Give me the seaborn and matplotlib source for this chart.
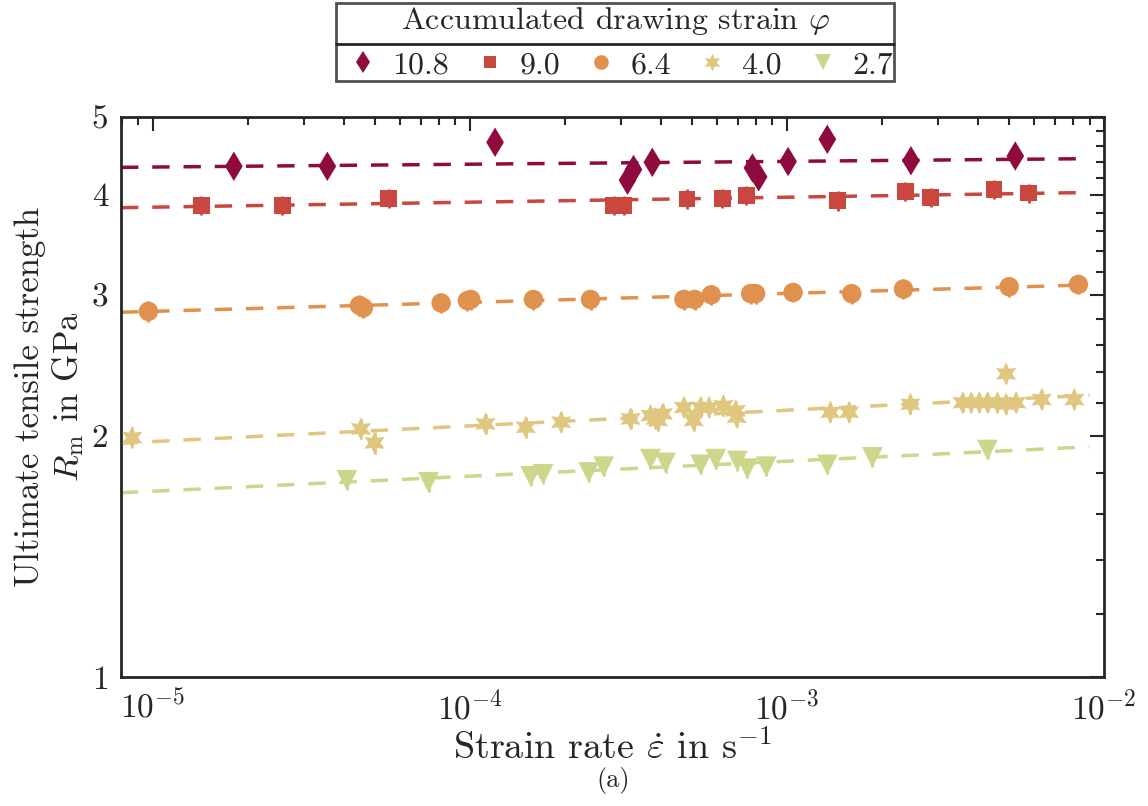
import numpy as np
import pandas as pd
import matplotlib
matplotlib.use("Agg")
import matplotlib.pyplot as plt
import seaborn as sns
from matplotlib.lines import Line2D
from matplotlib.ticker import LogLocator, FixedLocator, NullFormatter

# accumulated drawing strain -> strain rate (1/s) and tensile strength (GPa)
phi_labels = ["10.8", "9.0", "6.4", "4.0", "2.7"]
colors = ["#8E0A3F", "#C9473F", "#E0914E", "#DFC77F", "#CDD68A"]
markers = ["d", "s", "o", (6, 1, 0), "v"]
msizes = [15, 12, 14, 17, 15]

rate_108 = [1.80e-5, 3.55e-5, 1.20e-4, 3.14e-4, 3.28e-4, 3.76e-4, 7.78e-4, 8.14e-4,
            1.008e-3, 1.34e-3, 2.46e-3, 5.25e-3]
rm_108 = [4.34, 4.34, 4.65, 4.17, 4.30, 4.39, 4.32, 4.21, 4.40, 4.69, 4.41, 4.47]

rate_90 = [1.42e-5, 2.56e-5, 5.54e-5, 2.84e-4, 3.06e-4, 4.84e-4, 6.25e-4, 7.44e-4,
           1.446e-3, 2.36e-3, 2.84e-3, 4.50e-3, 5.78e-3]
rm_90 = [3.88, 3.88, 3.96, 3.88, 3.88, 3.95, 3.96, 3.99, 3.93, 4.04, 3.97, 4.06, 4.02]

rate_64 = [9.68e-6, 4.48e-5, 4.61e-5, 8.11e-5, 9.81e-5, 1.006e-4, 1.585e-4, 2.40e-4,
           4.73e-4, 5.11e-4, 5.77e-4, 7.68e-4, 7.96e-4, 1.045e-3, 1.60e-3, 2.33e-3,
           5.02e-3, 8.30e-3]
rm_64 = [2.86, 2.91, 2.89, 2.93, 2.95, 2.96, 2.96, 2.96, 2.96, 2.96, 3.00, 3.01,
         3.01, 3.02, 3.01, 3.05, 3.07, 3.09]

rate_40 = [8.6e-6, 4.53e-5, 5.00e-5, 1.12e-4, 1.50e-4, 1.94e-4, 3.21e-4, 3.71e-4,
           3.85e-4, 4.06e-4, 3.92e-4, 4.73e-4, 5.08e-4, 5.34e-4, 5.68e-4, 6.30e-4,
           6.89e-4, 6.94e-4, 1.37e-3, 1.57e-3, 2.45e-3, 3.58e-3, 3.81e-3, 4.04e-3,
           4.29e-3, 4.61e-3, 4.91e-3, 4.91e-3, 5.28e-3, 6.36e-3, 8.06e-3]
rm_40 = [1.99, 2.04, 1.96, 2.07, 2.05, 2.08, 2.10, 2.12, 2.10, 2.13, 2.09, 2.17,
         2.09, 2.17, 2.17, 2.18, 2.15, 2.11, 2.14, 2.14, 2.19, 2.20, 2.20, 2.20,
         2.20, 2.20, 2.19, 2.39, 2.20, 2.22, 2.22]

rate_27 = [4.09e-5, 7.40e-5, 1.555e-4, 1.70e-4, 2.37e-4, 2.64e-4, 3.71e-4, 4.14e-4,
           5.34e-4, 5.96e-4, 6.97e-4, 7.50e-4, 8.60e-4, 1.34e-3, 1.86e-3, 4.29e-3]
rm_27 = [1.76, 1.75, 1.78, 1.79, 1.80, 1.83, 1.87, 1.85, 1.84, 1.87, 1.86, 1.82,
         1.83, 1.84, 1.88, 1.92]

rm_err = [0.10, 0.11, 0.085, 0.06, 0.05]
fit_range = [7.93e-6, 9.0e-3]

rates = [rate_108, rate_90, rate_64, rate_40, rate_27]
rms = [rm_108, rm_90, rm_64, rm_40, rm_27]

df = pd.concat([pd.DataFrame({"rate": r, "rm": m, "phi": p})
                for r, m, p in zip(rates, rms, phi_labels)], ignore_index=True)

sns.set_theme(style="white")
plt.rcParams["font.family"] = ["cmr10", "DejaVu Serif"]
plt.rcParams["mathtext.fontset"] = "cm"
plt.rcParams["axes.formatter.use_mathtext"] = True
plt.rcParams["axes.unicode_minus"] = False

fig = plt.figure(figsize=(11.48, 8.06), dpi=100)
ax = fig.add_axes([0.1054, 0.16, 0.8563, 0.6948])

# power law fit lines
for r, m, c in zip(rates, rms, colors):
    k, d = np.polyfit(np.log10(r), np.log10(m), 1)
    xf = np.array(fit_range)
    fit_df = pd.DataFrame({"rate": xf, "rm": 10 ** (d + k * np.log10(xf))})
    sns.lineplot(data=fit_df, x="rate", y="rm", ax=ax, color=c, lw=2.5,
                 linestyle=(0, (5, 4)), zorder=2)

for i, p in enumerate(phi_labels):
    sub = df[df["phi"] == p]
    ax.errorbar(sub["rate"], sub["rm"], yerr=rm_err[i], fmt="none",
                ecolor=colors[i], elinewidth=2, zorder=3)
    sns.scatterplot(data=sub, x="rate", y="rm", ax=ax, color=colors[i],
                    marker=markers[i], s=msizes[i] ** 2, edgecolor="none",
                    linewidth=0, zorder=4)

ax.set_xscale("log")
ax.set_yscale("log")
ax.set_xlim(7.93e-6, 1e-2)
ax.set_ylim(1, 5)

ax.xaxis.set_major_locator(LogLocator(base=10, numticks=10))
ax.xaxis.set_minor_locator(LogLocator(base=10, subs=np.arange(2, 10), numticks=20))
ax.xaxis.set_minor_formatter(NullFormatter())
ax.yaxis.set_major_locator(FixedLocator([1, 2, 3, 4, 5]))
ax.yaxis.set_minor_locator(FixedLocator([1.2, 1.4, 1.6, 1.8, 2.2, 2.4, 2.6, 2.8,
                                         3.2, 3.4, 3.6, 3.8, 4.2, 4.4, 4.6, 4.8]))
ax.yaxis.set_minor_formatter(NullFormatter())
ax.set_yticklabels(["1", "2", "3", "4", "5"])

ax.tick_params(which="both", direction="in", top=True, right=True,
               colors="#262626", labelsize=24, width=1.5)
ax.tick_params(which="major", length=10, pad=9)
ax.tick_params(which="minor", length=6)
for sp in ax.spines.values():
    sp.set_linewidth(2)
    sp.set_color("#262626")

ax.set_xlabel(r"Strain rate $\dot{\varepsilon}$ in s$^{-1}$", fontsize=27.5,
              color="#262626", labelpad=3)
ax.set_ylabel("Ultimate tensile strength\n" + r"$R_\mathrm{m}$ in GPa", fontsize=25,
              color="#262626", labelpad=4, linespacing=1.15)
fig.text(0.534, 0.032, "(a)", ha="center", va="center", fontsize=19, color="#262626")

handles = [Line2D([], [], ls="none", marker=mk, color=c, markersize=ms * 0.75,
                  markeredgewidth=0) for mk, c, ms in zip(markers, colors, msizes)]
leg = fig.legend(handles, phi_labels, loc="upper center", bbox_to_anchor=(0.536, 0.996),
                 borderaxespad=0, ncol=5, title=r"Accumulated drawing strain $\varphi$",
                 fontsize=23, title_fontsize=23, frameon=True, fancybox=False,
                 edgecolor="#262626", borderpad=0.05, columnspacing=0.5,
                 handletextpad=0.1, handlelength=1.6)
leg.get_frame().set_linewidth(2)
for t in leg.get_texts():
    t.set_color("#262626")
leg.get_title().set_color("#262626")
leg._legend_box.sep = 10

# separator line between legend title and entries
fig.canvas.draw()
r = fig.canvas.get_renderer()
lb = leg.get_window_extent(r)
tb = leg.get_title().get_window_extent(r)
eb = leg._legend_handle_box.get_window_extent(r)
ysep = 0.5 * (tb.y0 + eb.y1)
inv = fig.transFigure.inverted()
(x0, y0) = inv.transform((lb.x0, ysep))
(x1, _) = inv.transform((lb.x1, ysep))
fig.add_artist(Line2D([x0, x1], [y0, y0], transform=fig.transFigure,
                      color="#262626", lw=2, zorder=10))

fig.savefig("out.png", dpi=100)
